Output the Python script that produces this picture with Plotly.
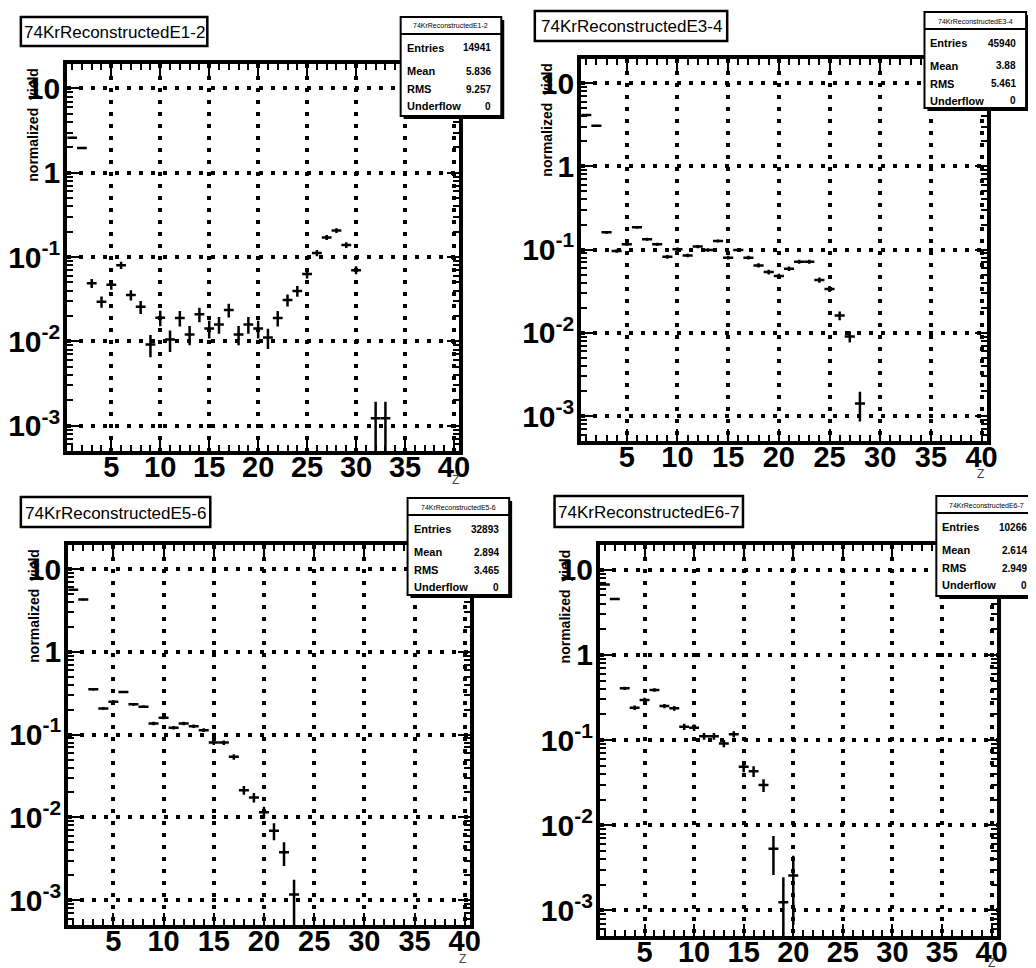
import plotly.graph_objects as go

W, H = 1036, 968

# ---------------- data ----------------
titles = ["74KrReconstructedE1-2", "74KrReconstructedE3-4",
          "74KrReconstructedE5-6", "74KrReconstructedE6-7"]
entries = ["14941", "45940", "32893", "10266"]
means = ["5.836", "3.88", "2.894", "2.614"]
rmss = ["9.257", "5.461", "3.465", "2.949"]
underflows = ["0", "0", "0", "0"]

z1 = list(range(1, 31)) + [32, 33]
y1 = [2.6, 1.97, 0.049, 0.0295, 0.047, 0.080, 0.0355, 0.0257, 0.0092, 0.0191,
      0.0105, 0.019, 0.0121, 0.021, 0.0142, 0.0159, 0.0236, 0.0121, 0.0159, 0.0142,
      0.0111, 0.019, 0.031, 0.0397, 0.0628, 0.112, 0.171, 0.206, 0.139, 0.070,
      0.00123, 0.00123]
e1 = [0.04, 0.035, 0.006, 0.0045, 0.006, 0.008, 0.005, 0.0045, 0.0027, 0.004,
      0.003, 0.004, 0.0031, 0.0041, 0.0034, 0.0036, 0.0044, 0.0031, 0.0036, 0.0034,
      0.003, 0.004, 0.005, 0.0058, 0.0072, 0.0097, 0.012, 0.013, 0.011, 0.0076,
      0.0007, 0.0007]
e1m = [0.04, 0.035, 0.006, 0.0045, 0.006, 0.008, 0.005, 0.0045, 0.0027, 0.004,
       0.003, 0.004, 0.0031, 0.0041, 0.0034, 0.0036, 0.0044, 0.0031, 0.0036, 0.0034,
       0.003, 0.004, 0.005, 0.0058, 0.0072, 0.0097, 0.012, 0.013, 0.011, 0.0076,
       0.00122, 0.00122]

z2 = list(range(1, 29))
y2 = [4.14, 3.07, 0.161, 0.0964, 0.116, 0.185, 0.133, 0.116, 0.082, 0.101,
      0.085, 0.109, 0.099, 0.127, 0.080, 0.099, 0.080, 0.0646, 0.0537, 0.048,
      0.0589, 0.0716, 0.0716, 0.043, 0.0337, 0.0161, 0.00904, 0.00141]
e2 = [0.03, 0.025, 0.006, 0.0045, 0.005, 0.0063, 0.0054, 0.005, 0.0042, 0.0047,
      0.0043, 0.0049, 0.0046, 0.0052, 0.0042, 0.0046, 0.0042, 0.0037, 0.0034, 0.0033,
      0.0036, 0.004, 0.004, 0.0031, 0.0027, 0.0019, 0.0014, 0.00055]
e2m = e2

z3 = list(range(1, 24))
y3 = [5.6, 4.28, 0.352, 0.207, 0.25, 0.327, 0.232, 0.217, 0.136, 0.160,
      0.121, 0.136, 0.126, 0.113, 0.080, 0.080, 0.0538, 0.0213, 0.0174, 0.0115,
      0.0069, 0.00379, 0.00117]
e3 = [0.05, 0.04, 0.011, 0.008, 0.009, 0.01, 0.0085, 0.0082, 0.0065, 0.007,
      0.006, 0.0065, 0.0062, 0.0059, 0.005, 0.005, 0.0041, 0.0026, 0.0023, 0.0019,
      0.0016, 0.0012, 0.0006]
e3m = [0.05, 0.04, 0.011, 0.008, 0.009, 0.01, 0.0085, 0.0082, 0.0065, 0.007,
       0.006, 0.0065, 0.0062, 0.0059, 0.005, 0.005, 0.0041, 0.0026, 0.0023, 0.0019,
       0.0016, 0.0012, 0.00116]

z4 = list(range(1, 21))
y4 = [6.7, 4.52, 0.405, 0.24, 0.296, 0.387, 0.251, 0.236, 0.1435, 0.14,
      0.111, 0.111, 0.0914, 0.117, 0.0485, 0.0431, 0.0296, 0.0053, 0.00125, 0.00258]
e4 = [0.08, 0.06, 0.019, 0.015, 0.017, 0.019, 0.015, 0.015, 0.012, 0.012,
      0.01, 0.01, 0.009, 0.01, 0.0065, 0.0062, 0.0051, 0.0022, 0.0012, 0.0018]
e4m = [0.08, 0.06, 0.019, 0.015, 0.017, 0.019, 0.015, 0.015, 0.012, 0.012,
       0.01, 0.01, 0.009, 0.01, 0.0065, 0.0062, 0.0051, 0.0027, 0.00124, 0.0019]

xs = [z1, z2, z3, z4]
ys = [y1, y2, y3, y4]
eps = [e1, e2, e3, e4]
ems = [e1m, e2m, e3m, e4m]

ytick_vals = [0.001, 0.01, 0.1, 1, 10]
ytick_text = ["10<sup>-3</sup>", "10<sup>-2</sup>", "10<sup>-1</sup>", "1", "10"]

# ---------------- layout geometry (pixels) ----------------
frames = [(57, 454, 56, 443), (578, 989, 51, 433), (58, 465, 537, 917), (597, 999, 537, 928)]
title_boxes = [(10, 9, 199, 38), (531, 3, 726, 33), (10, 489, 202, 519), (551, 488, 742, 519)]
stat_boxes = [(395, 9, 497, 108), (926, 4, 1029, 100), (402, 490, 505, 587), (938, 488, 1040, 588)]
ztitle_pos = [(451, 472), (983, 466), (458, 951), (994, 955)]

FONT = "Liberation Sans, Arial, Helvetica, sans-serif"


def px(x):
    return x / W


def py(y):
    return 1 - y / H


fig = go.Figure()

minor_y = [m * 10 ** d for d in range(-4, 2) for m in range(2, 10)]

layout = dict(width=W, height=H, margin=dict(l=0, r=0, t=0, b=0),
              paper_bgcolor="white", plot_bgcolor="white", showlegend=False)

shapes = []
annotations = []

for i in range(4):
    sfx = "" if i == 0 else str(i + 1)
    l, r, t, b = frames[i]
    fig.add_trace(go.Scatter(
        x=xs[i], y=ys[i], mode="markers",
        marker=dict(size=2, color="black", symbol="square"),
        error_x=dict(type="constant", value=0.5, width=0, thickness=2.5, color="black"),
        error_y=dict(type="data", array=eps[i], arrayminus=ems[i], symmetric=False,
                     width=0, thickness=2.5, color="black"),
        xaxis="x" + sfx, yaxis="y" + sfx, hoverinfo="skip"))

    common = dict(showline=True, linecolor="black", linewidth=4, mirror="allticks",
                  ticks="inside", tickcolor="black", tickwidth=2,
                  showgrid=True, gridcolor="black", gridwidth=4, griddash="4px,8px",
                  zeroline=False)
    layout["xaxis" + sfx] = dict(
        common, domain=[px(l), px(r)], range=[0.5, 40.5],
        anchor="y" + sfx, tickmode="linear", tick0=0, dtick=5, ticklen=12,
        ticklabelstandoff=-13,
        tickfont=dict(family=FONT, size=29, color="black", weight="bold"),
        minor=dict(dtick=1, tick0=0, ticks="inside", ticklen=6, tickcolor="black",
                   tickwidth=2, showgrid=False))
    layout["yaxis" + sfx] = dict(
        common, domain=[py(b), py(t)], type="log", range=[-3.3, 1.29],
        anchor="x" + sfx, tickmode="array", tickvals=ytick_vals, ticktext=ytick_text,
        ticklen=12, ticklabelstandoff=-3,
        tickfont=dict(family=FONT, size=30, color="black", weight="bold"),
        minor=dict(tickmode="array", tickvals=minor_y, ticks="inside", ticklen=6,
                   tickcolor="black", tickwidth=2, showgrid=False))

    # title box
    tx0, ty0, tx1, ty1 = title_boxes[i]
    shapes.append(dict(type="rect", xref="paper", yref="paper",
                       x0=px(tx0), x1=px(tx1), y0=py(ty1), y1=py(ty0),
                       line=dict(color="black", width=2.5), fillcolor="white", layer="above"))
    annotations.append(dict(text=titles[i], xref="paper", yref="paper",
                            x=px((tx0 + tx1) / 2), y=py((ty0 + ty1) / 2 + 1),
                            xanchor="center", yanchor="middle", showarrow=False,
                            font=dict(family=FONT, size=17, color="black")))

    # stats box with shadow
    sx0, sy0, sx1, sy1 = stat_boxes[i]
    shapes.append(dict(type="rect", xref="paper", yref="paper",
                       x0=px(sx0 + 3), x1=px(sx1 + 3), y0=py(sy1 + 3), y1=py(sy0 + 3),
                       line=dict(color="black", width=0), fillcolor="black", layer="above"))
    shapes.append(dict(type="rect", xref="paper", yref="paper",
                       x0=px(sx0), x1=px(sx1), y0=py(sy1), y1=py(sy0),
                       line=dict(color="black", width=2), fillcolor="white", layer="above"))
    sep = sy0 + 17
    shapes.append(dict(type="line", xref="paper", yref="paper",
                       x0=px(sx0), x1=px(sx1), y0=py(sep), y1=py(sep),
                       line=dict(color="black", width=2), layer="above"))
    annotations.append(dict(text=titles[i], xref="paper", yref="paper",
                            x=px((sx0 + sx1) / 2), y=py(sy0 + 9),
                            xanchor="center", yanchor="middle", showarrow=False,
                            font=dict(family=FONT, size=7, color="black")))
    rows = [("Entries", entries[i]), ("Mean", means[i]), ("RMS", rmss[i]),
            ("Underflow", underflows[i])]
    row_y = [sy0 + 31, sy0 + 54, sy0 + 72, sy0 + 89]
    for (lab, val), ry in zip(rows, row_y):
        annotations.append(dict(text=lab, xref="paper", yref="paper",
                                x=px(sx0 + 4), y=py(ry), xanchor="left", yanchor="middle",
                                showarrow=False,
                                font=dict(family=FONT, size=11, color="black", weight="bold")))
        annotations.append(dict(text=val, xref="paper", yref="paper",
                                x=px(sx1 - 8), y=py(ry), xanchor="right", yanchor="middle",
                                showarrow=False,
                                font=dict(family=FONT, size=10, color="black", weight="bold")))

    # y title
    annotations.append(dict(text="normalized  yield", xref="paper", yref="paper",
                            x=px(l - 35), y=py(t + 2), xanchor="center", yanchor="top",
                            textangle=-90, showarrow=False,
                            font=dict(family=FONT, size=14, color="black", weight="bold")))
    # x title
    zx, zy = ztitle_pos[i]
    annotations.append(dict(text="Z", xref="paper", yref="paper",
                            x=px(zx), y=py(zy), xanchor="center", yanchor="middle",
                            showarrow=False,
                            font=dict(family=FONT, size=12, color="#444")))

layout["shapes"] = shapes
layout["annotations"] = annotations
fig.update_layout(**layout)
fig.write_html("out.html")
